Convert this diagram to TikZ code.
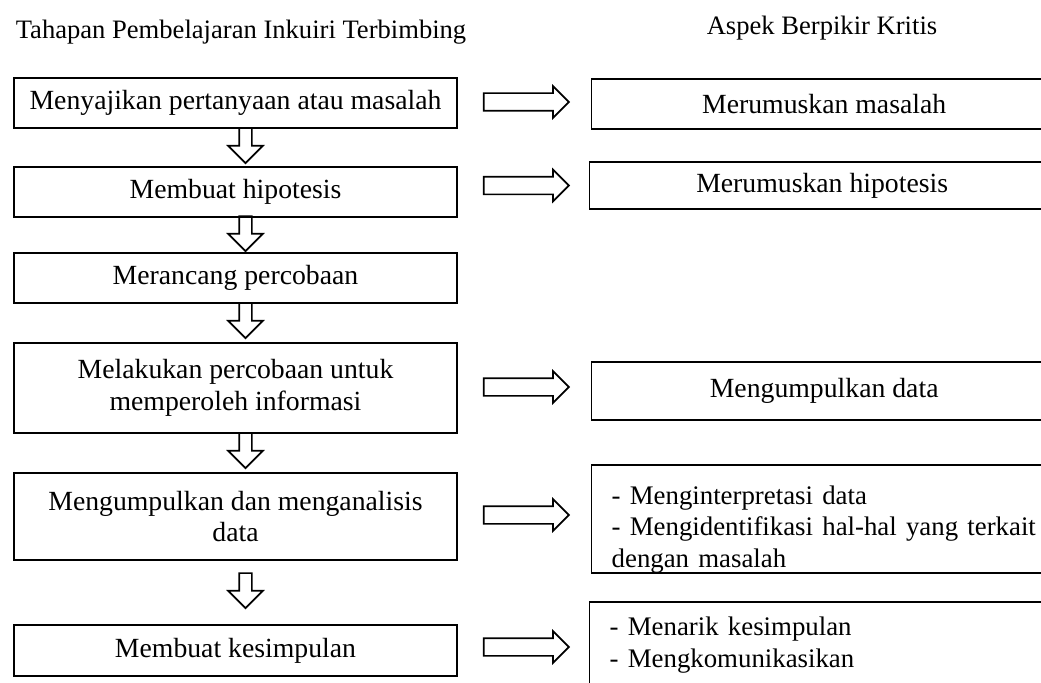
\documentclass[tikz,border=0pt]{standalone}
\usepackage{fontspec}
\setmainfont{Liberation Serif}
\usetikzlibrary{shapes.arrows, positioning, calc}
\newcommand{\pxu}{0.44pt}
\newcommand{\strip}{\makebox[8pt][l]{-}}

\begin{document}
\begin{tikzpicture}[
    x=\pxu, y=-\pxu,
    box/.style={rectangle, draw=black, line width=0.6pt, minimum width=443*\pxu,
                minimum height=50*\pxu, align=center, inner sep=0pt,
                font=\fontsize{12.2pt}{14pt}\selectfont},
    rbox/.style={box, minimum width=465*\pxu, anchor=west},
    lbox/.style={rbox, align=left, text width=470*\pxu, inner xsep=20*\pxu},
    rarr/.style={single arrow, draw=black, line width=0.75pt, minimum height=85*\pxu,
                 inner xsep=0pt, inner ysep=8*\pxu, single arrow head extend=7*\pxu,
                 single arrow tip angle=90, single arrow head indent=0pt, anchor=tip},
    darr/.style={rarr, minimum height=35*\pxu, inner ysep=5.5*\pxu,
                 single arrow head extend=11*\pxu, rotate=-90},
    title/.style={font=\fontsize{11.7pt}{14pt}\selectfont, inner sep=0pt}
]
\useasboundingbox (0,0) rectangle (1041,682);
\node[title] (tl) at (241,32) {Tahapan Pembelajaran Inkuiri Terbimbing};
\node[title] (tr) at (822,28) {Aspek Berpikir Kritis};
% tahapan
\node[box] (l1) at (235.5,103) {Menyajikan pertanyaan atau masalah};
\node[box] (l2) at (235.5,192) {Membuat hipotesis};
\node[box] (l3) at (235.5,278) {Merancang percobaan};
\node[box, minimum height=90*\pxu] (l4) at (235.5,388)
    {Melakukan percobaan untuk\\ memperoleh informasi};
\node[box, minimum height=87*\pxu] (l5) at (235.5,516.5)
    {\fontsize{12.2pt}{14.8pt}\selectfont Mengumpulkan dan menganalisis\\ data};
\node[box, minimum height=51*\pxu] (l6) at (235.5,650.5) {Membuat kesimpulan};
% aspek
\node[rbox] (r1) at (591,104) {Merumuskan masalah};
\node[rbox, minimum height=47*\pxu] (r2) at (589,185.5) {Merumuskan hipotesis};
\node[rbox, minimum height=58*\pxu] (r4) at (591,391) {Mengumpulkan data};
\node[lbox, minimum height=106*\pxu, text height=17.5pt] (r5) at (591,519)
    {\fontsize{11.8pt}{13.6pt}\selectfont
     \strip Menginterpretasi data\\
     \strip Mengidentifikasi hal-hal yang terkait\\
     dengan masalah};
\node[lbox, minimum height=86*\pxu] (r6) at (589,645)
    {\fontsize{11.8pt}{13.4pt}\selectfont
     \strip Menarik kesimpulan\\
     \strip Mengkomunikasikan};
% panah
\node[darr] (d1) at ([shift={(10,-2)}]l2.north) {};
\node[darr] (d2) at ([shift={(10,0)}]l3.north) {};
\node[darr] (d3) at ([shift={(10,-3)}]l4.north) {};
\node[darr] (d4) at ([shift={(10,-3)}]l5.north) {};
\node[darr] (d5) at ([shift={(10,-15)}]l6.north) {};
\node[rarr] (a1) at ([shift={(-21,-2)}]r1.west) {};
\node[rarr] (a2) at ([shift={(-19,0)}]r2.west) {};
\node[rarr] (a4) at ([shift={(-21,-4)}]r4.west) {};
\node[rarr] (a5) at ([shift={(-21,-4)}]r5.west) {};
\node[rarr] (a6) at ([shift={(-19,2)}]r6.west) {};
\end{tikzpicture}
\end{document}
